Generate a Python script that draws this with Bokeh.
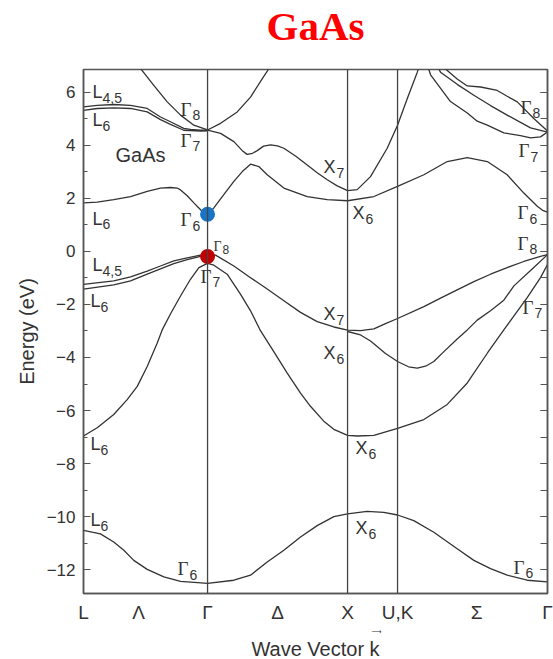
from bokeh.plotting import figure
from bokeh.models import Range1d, LinearAxis, FixedTicker, SingleIntervalTicker, Span, Title
from bokeh.core.properties import value
from bokeh.embed import file_html
from bokeh.resources import INLINE

# ---------------- data ----------------
sym_k = [0.0, 0.886, 1.886, 2.243, 3.314]
sym_labels = ["L", "Γ", "X", "U,K", "Γ"]
dir_k = [0.393, 1.386, 2.807]
dir_labels = ["Λ", "Δ", "Σ"]
E_min, E_max = -12.9, 6.86
y_ticks = [-12, -10, -8, -6, -4, -2, 0, 2, 4, 6]

# valence band 1 (s-like)
vb1_k = [0, 0.121, 0.216, 0.288, 0.359, 0.455, 0.574, 0.693, 0.886, 1.074, 1.193, 1.312, 1.431, 1.550,
         1.669, 1.788, 1.886, 2.026, 2.145, 2.243, 2.359, 2.502, 2.669, 2.788, 2.907, 3.026, 3.169, 3.314]
vb1_E = [-10.52, -10.65, -10.96, -11.27, -11.65, -11.99, -12.27, -12.44, -12.52, -12.40, -12.21, -11.71,
         -11.27, -10.77, -10.34, -10.00, -9.90, -9.80, -9.84, -9.94, -10.15, -10.59, -11.21, -11.65, -11.96,
         -12.21, -12.40, -12.46]
# valence band 2
vb2_k = [0, 0.098, 0.216, 0.312, 0.384, 0.455, 0.526, 0.562, 0.621, 0.693, 0.764, 0.824, 0.886,
         0.931, 1.026, 1.121, 1.193, 1.264, 1.359, 1.455, 1.550, 1.621, 1.716, 1.788, 1.886,
         1.955, 2.074, 2.243, 2.431, 2.598, 2.741, 2.884, 3.002, 3.169, 3.264, 3.314]
vb2_E = [-6.96, -6.65, -6.15, -5.59, -5.09, -4.34, -3.46, -2.96, -2.36, -1.68, -1.05, -0.61, -0.45,
         -0.52, -0.86, -1.61, -2.24, -2.99, -3.78, -4.59, -5.34, -5.84, -6.40, -6.71, -6.94,
         -6.96, -6.94, -6.67, -6.34, -5.77, -4.96, -3.84, -2.96, -1.74, -0.99, -0.50]
# top valence bands along Lambda
vbL45_k = [0, 0.216, 0.336, 0.455, 0.550, 0.645, 0.741, 0.836, 0.886]
vbL45_E = [-1.24, -1.11, -0.96, -0.74, -0.55, -0.36, -0.24, -0.14, -0.12]
vbL6_k = [0, 0.216, 0.336, 0.455, 0.550, 0.645, 0.741, 0.836, 0.886]
vbL6_E = [-1.42, -1.26, -1.11, -0.86, -0.66, -0.46, -0.31, -0.19, -0.12]
# heavy hole Gamma-X-K-Gamma
vbh_k = [0.886, 0.943, 1.074, 1.193, 1.312, 1.431, 1.550, 1.669, 1.788, 1.886, 1.979, 2.074, 2.157,
         2.243, 2.431, 2.550, 2.669, 2.788, 2.907, 3.026, 3.145, 3.264, 3.314]
vbh_E = [-0.12, -0.14, -0.55, -0.99, -1.42, -1.86, -2.30, -2.65, -2.85, -2.97, -2.99, -2.92, -2.72,
         -2.53, -2.08, -1.76, -1.45, -1.14, -0.86, -0.61, -0.38, -0.19, -0.12]
# second valence band X-K-Gamma
vbx_k = [1.886, 1.979, 2.050, 2.157, 2.243, 2.321, 2.384, 2.443, 2.502, 2.574, 2.669, 2.741, 2.812,
         2.907, 3.002, 3.074, 3.216, 3.314]
vbx_E = [-3.02, -3.15, -3.38, -3.85, -4.15, -4.35, -4.40, -4.33, -4.15, -3.78, -3.30, -2.96, -2.59,
         -2.24, -1.84, -1.30, -0.61, -0.12]
# lowest conduction band
cb1_k = [0, 0.098, 0.216, 0.336, 0.455, 0.550, 0.621, 0.669, 0.693, 0.741, 0.788, 0.824, 0.859, 0.886,
         0.931, 1.002, 1.074, 1.134, 1.193, 1.252, 1.312, 1.431, 1.598, 1.741, 1.886, 2.074, 2.243, 2.431,
         2.598, 2.741, 2.884, 3.026, 3.145, 3.241, 3.279, 3.314]
cb1_E = [1.83, 1.86, 1.95, 2.07, 2.26, 2.39, 2.41, 2.39, 2.32, 2.10, 1.83, 1.64, 1.45, 1.40,
         1.64, 2.14, 2.64, 3.01, 3.29, 3.20, 2.89, 2.39, 2.07, 1.95, 1.91, 2.07, 2.45, 2.89,
         3.39, 3.54, 3.39, 2.89, 2.20, 1.70, 1.55, 1.48]
# upper conduction pair along Lambda
cbL45_k = [0, 0.098, 0.216, 0.336, 0.455, 0.550, 0.621, 0.716, 0.764, 0.836, 0.886]
cbL45_E = [5.45, 5.51, 5.54, 5.51, 5.39, 5.07, 4.89, 4.64, 4.60, 4.57, 4.57]
cbL6_k = [0, 0.098, 0.216, 0.336, 0.455, 0.550, 0.621, 0.716, 0.764, 0.836, 0.886]
cbL6_E = [5.32, 5.39, 5.41, 5.39, 5.26, 4.97, 4.79, 4.57, 4.56, 4.54, 4.55]
# Gamma8 parabola
cbG8_k = [0.407, 0.502, 0.598, 0.693, 0.788, 0.886, 0.979, 1.098, 1.193, 1.276, 1.324]
cbG8_E = [6.90, 6.26, 5.64, 5.14, 4.76, 4.58, 4.83, 5.26, 5.82, 6.51, 6.89]
# Gamma7 - X7 - up
cbG7_k = [0.886, 0.979, 1.074, 1.134, 1.169, 1.207, 1.241, 1.286, 1.336, 1.386, 1.431, 1.514, 1.598,
          1.669, 1.741, 1.812, 1.886, 1.955, 2.050, 2.169, 2.243, 2.312, 2.384, 2.393]
cbG7_E = [4.57, 4.45, 4.14, 3.80, 3.66, 3.70, 3.80, 3.97, 4.02, 3.98, 3.89, 3.60, 3.26,
          2.97, 2.70, 2.47, 2.29, 2.33, 2.82, 3.89, 4.76, 5.76, 6.76, 6.90]
# Sigma upper bands
cbS1_k = [2.464, 2.479, 2.621, 2.741, 2.812, 2.884, 3.002, 3.121, 3.193, 3.264, 3.314]
cbS1_E = [6.90, 6.66, 5.65, 5.22, 4.91, 4.76, 4.47, 4.37, 4.28, 4.32, 4.50]
cbS2_k = [2.536, 2.550, 2.669, 2.788, 2.907, 3.026, 3.193, 3.314]
cbS2_E = [6.90, 6.76, 6.30, 5.89, 5.50, 5.14, 4.66, 4.50]
cbS3_k = [2.579, 2.598, 2.669, 2.741, 2.836, 2.955, 3.026, 3.098, 3.216, 3.314]
cbS3_E = [6.90, 6.82, 6.50, 6.24, 6.20, 6.07, 5.85, 5.64, 5.01, 4.54]

# band edges marked by dots
cbm_k, cbm_E = [0.886], [1.40]
vbm_k, vbm_E = [0.886], [-0.19]

# state labels
L_lab_k = [0.064, 0.064, 0.064, 0.064, 0.050, 0.050, 0.050]
L_lab_E = [6.00, 4.95, 1.24, -0.53, -1.87, -7.26, -10.12]
L_lab_sub = ["4,5", "6", "6", "4,5", "6", "6", "6"]
X_lab_k = [1.714, 1.921, 1.714, 1.714, 1.943, 1.943]
X_lab_E = [3.19, 1.46, -2.36, -3.84, -7.43, -10.43]
X_lab_sub = ["7", "6", "7", "6", "6", "6"]
G_lab_k = [0.693, 0.693, 0.693, 0.836, 0.671, 3.121, 3.107, 3.100, 3.100, 3.136, 3.071]
G_lab_E = [5.36, 4.20, 1.20, -0.94, -11.96, 5.44, 3.79, 1.46, 0.30, -2.10, -11.92]
G_lab_sub = ["8", "7", "6", "7", "6", "8", "7", "6", "8", "7", "6"]
Gs_lab_k, Gs_lab_E, Gs_lab_sub = [0.929], [0.17], ["8"]
name_k, name_E = 0.229, 3.64

# ---------------- figure ----------------
INK = "#333333"
FRAME = "#555555"
W, H = 553, 659
BL, BR, BT, BB = 83, 6, 68, 64
p = figure(width=W, height=H, x_range=Range1d(sym_k[0], sym_k[-1]), y_range=Range1d(E_min, E_max),
           output_backend="svg", toolbar_location=None,
           min_border_left=BL, min_border_right=BR, min_border_top=BT, min_border_bottom=BB)
p.grid.visible = False
p.outline_line_color = FRAME
p.outline_line_width = 1.5
p.background_fill_color = "white"
p.border_fill_color = "white"

p.title.text = "GaAs"
p.title.align = "center"
p.title.text_font = "Liberation Serif"
p.title.text_font_size = "41px"
p.title.text_font_style = "bold"
p.title.text_color = "#ff0000"
p.title.standoff = 0
try:
    p.title.padding = dict(left=0, right=0, top=0, bottom=21)
except Exception:
    pass

px_per_k = (W - BL - BR) / (sym_k[-1] - sym_k[0])
px_per_E = (H - BT - BB) / (E_max - E_min)

ticker = SingleIntervalTicker(interval=2, num_minor_ticks=2)
ya = p.yaxis[0]
ya.ticker = ticker
ya.major_label_overrides = {t: (str(t).replace("-", "\u2212")) for t in y_ticks}
ya.major_label_text_font = "Liberation Sans"
ya.major_label_text_font_size = "17px"
ya.major_label_text_color = INK
ya.major_tick_in, ya.major_tick_out = 7, 0
ya.minor_tick_in, ya.minor_tick_out = 4, 0
ya.major_tick_line_color = FRAME
ya.minor_tick_line_color = FRAME
ya.axis_line_color = FRAME
ya.axis_line_width = 1.5
ya.major_label_standoff = 8
ya.axis_label = "Energy (eV)"
ya.axis_label_text_font = "Liberation Sans"
ya.axis_label_text_font_size = "20px"
ya.axis_label_text_font_style = "normal"
ya.axis_label_text_color = INK
ya.axis_label_standoff = 6

ra = LinearAxis(ticker=ticker)
ra.major_label_text_color = None
ra.major_tick_in, ra.major_tick_out = 7, 0
ra.minor_tick_in, ra.minor_tick_out = 7, 0
ra.major_tick_line_color = FRAME
ra.minor_tick_line_color = FRAME
ra.axis_line_color = FRAME
ra.axis_line_width = 1.5
p.add_layout(ra, "right")

bottom_k = sym_k + dir_k
bottom_t = sym_labels + dir_labels
xa = p.xaxis[0]
xa.ticker = FixedTicker(ticks=bottom_k)
xa.major_label_overrides = dict(zip(bottom_k, bottom_t))
xa.major_label_text_font = "Liberation Sans"
xa.major_label_text_font_size = "19px"
xa.major_label_text_color = INK
xa.major_tick_in, xa.major_tick_out = 0, 0
xa.minor_tick_in, xa.minor_tick_out = 0, 0
xa.major_tick_line_color = None
xa.minor_tick_line_color = None
xa.axis_line_color = FRAME
xa.axis_line_width = 1.5
xa.major_label_standoff = 8

# axis title with a small vector arrow over the k
arrow = Title(text="\u27f6", align="left", offset=288, standoff=0, text_font="DejaVu Sans",
              text_font_size="7px", text_font_style="normal", text_color=INK)
p.add_layout(arrow, "below")
xtitle = Title(text="Wave Vector k", align="center", standoff=0, text_font="Liberation Sans",
               text_font_size="20px", text_font_style="normal", text_color=INK)
p.add_layout(xtitle, "below")

# vertical symmetry lines
for kk in sym_k[1:4]:
    p.add_layout(Span(location=kk, dimension="height", line_color="#444444", line_width=1.3))

bands = [(vb1_k, vb1_E), (vb2_k, vb2_E), (vbL45_k, vbL45_E), (vbL6_k, vbL6_E), (vbh_k, vbh_E),
         (vbx_k, vbx_E), (cb1_k, cb1_E), (cbL45_k, cbL45_E), (cbL6_k, cbL6_E), (cbG8_k, cbG8_E),
         (cbG7_k, cbG7_E), (cbS1_k, cbS1_E), (cbS2_k, cbS2_E), (cbS3_k, cbS3_E)]
for kk, ee in bands:
    p.line(kk, ee, line_color=INK, line_width=1.3, line_join="round")

p.scatter(cbm_k, cbm_E, size=15, fill_color="#1a74c6", line_color=None)
p.scatter(vbm_k, vbm_E, size=15, fill_color="#c00000", line_color=None)


def add_labels(ks, Es, mains, subs, font, size, sub_size, dx, dy):
    p.text(x=ks, y=Es, text=mains, text_font=value(font), text_font_size=value(size),
           text_color=INK, text_align="left", text_baseline="middle")
    sk = [k + dx / px_per_k for k in ks]
    sE = [e - dy / px_per_E for e in Es]
    p.text(x=sk, y=sE, text=subs, text_font=value("Liberation Sans"), text_font_size=value(sub_size),
           text_color=INK, text_align="left", text_baseline="middle")


add_labels(L_lab_k, L_lab_E, ["L"] * len(L_lab_k), L_lab_sub, "Liberation Sans", "18px", "14px", 10, 6)
add_labels(X_lab_k, X_lab_E, ["X"] * len(X_lab_k), X_lab_sub, "Liberation Sans", "18px", "14px", 13, 6)
add_labels(G_lab_k, G_lab_E, ["Γ"] * len(G_lab_k), G_lab_sub, "Liberation Serif", "19px", "14px", 12, 6)
add_labels(Gs_lab_k, Gs_lab_E, ["Γ"], Gs_lab_sub, "Liberation Serif", "14px", "12px", 9, 3)
p.text(x=[name_k], y=[name_E], text=["GaAs"], text_font=value("Liberation Sans"),
       text_font_size=value("20px"), text_color=INK, text_align="left", text_baseline="middle")

open("out.html", "w").write(file_html(p, INLINE))
